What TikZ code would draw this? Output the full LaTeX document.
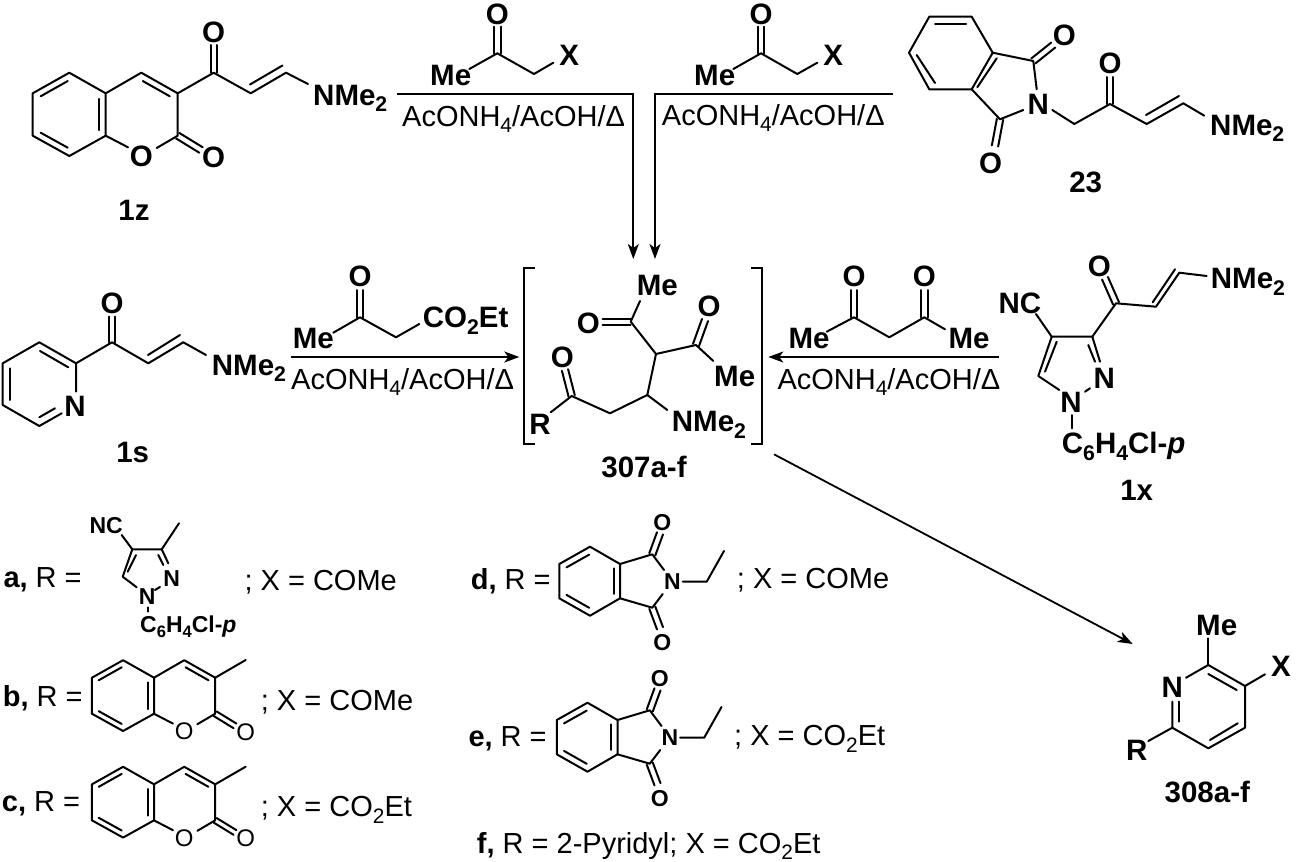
\documentclass[tikz,border=0pt]{standalone}
\usepackage{graphicx}
\usepackage{fontspec}
\setmainfont{Liberation Sans}
\usetikzlibrary{calc,arrows.meta}
\newcommand{\subs}[1]{\raisebox{-.23em}{\scalebox{.72}{#1}}}
\newcommand{\acoh}{AcONH\subs{4}/AcOH/Δ}
\def\dblbond(#1)(#2){\draw[bond] ($(#1)!3.2pt!90:(#2)$) -- ($(#2)!3.2pt!-90:(#1)$); \draw[bond] ($(#1)!3.2pt!-90:(#2)$) -- ($(#2)!3.2pt!90:(#1)$);}
\def\inbond(#1)(#2){\draw[bond] ($(#1)!.13!(#2)!6.5pt!90:(#2)$) -- ($(#2)!.13!(#1)!6.5pt!-90:(#1)$);}
\def\coumarin[#1](#2,#3)#4#5{\begin{scope}[shift={(#2,#3)},scale=#1]
	\draw[bond] (-36.4,-20.6) -- (0,0) -- (0,42.4) -- (-36.4,62.7) -- (-73,42.4) -- (-73,0) -- cycle;
	\inbond(-36.4,-20.6)(-73,0)
	\inbond(-73,42.4)(-36.4,62.7)
	\inbond(0,42.4)(0,0)
	\draw[bond] (0,0) -- (35.6,-20.6) -- (72,0) -- (72,42.4) -- (51,54.7);
	\draw[bond] (0,42.4) -- (22.3,54);
	\inbond(72,0)(35.6,-20.6)
	\dblbond(72,42.4)(95.3,56.7)
	\node[#5] (#4ring) at (35.6,63.4) {O};
	\node[#5] (#4oxo) at (108,63.7) {O};
\end{scope}}
\def\phthal(#1,#2)#3{\begin{scope}[shift={(#1,#2)}]
	\draw[bond] (-30,-17.3) -- (0,0) -- (0,34.3) -- (-30,51.7) -- (-60.7,34.3) -- (-60.7,0) -- cycle;
	\inbond(-30,-17.3)(-60.7,0)
	\inbond(-60.7,34.3)(-30,51.7)
	\inbond(0,34.3)(0,0)
	\draw[bond] (0,0) -- (32.3,-9.7) -- (44,6);
	\draw[bond] (0,34.3) -- (32.3,43.7) -- (42.7,30);
	\dblbond(32.3,-9.7)(40,-30.7)
	\dblbond(32.3,43.7)(40,64.3)
	\draw[bond] (62.7,17.7) -- (86.7,17.7) -- (104,-13);
	\node[atomsm] (#3n) at (52.3,17.7) {N};
	\node[atomsm] (#3up) at (42.3,-41.7) {O};
	\node[atomsm] (#3dn) at (42.3,78.3) {O};
\end{scope}}
\tikzset{
	bond/.style={line width=2pt,line cap=round,line join=round},
	rxn/.style={line width=1.8pt,-{Stealth[length=15pt,width=11pt,inset=4pt]}},
	brk/.style={line width=2pt},
	atom/.style={font=\bfseries\fontsize{29.5}{31}\selectfont,inner sep=0pt},
	atomsm/.style={font=\bfseries\fontsize{23}{25}\selectfont,inner sep=0pt},
	atomthin/.style={font=\fontsize{24}{26}\selectfont,inner sep=0pt},
	grp/.style={atom,anchor=base west},
	grpsm/.style={atomsm,anchor=base west},
	txt/.style={font=\fontsize{29}{31}\selectfont,inner sep=0pt,anchor=base west},
}
\begin{document}
\begin{tikzpicture}[x=1pt,y=-1pt]
	\useasboundingbox (0,0) rectangle (1299,862);
	
	%%%%% top row %%%%%
	\coumarin[1](105.7,93.3){z}{atom}
	\draw[bond] (177.7,93.3) -- (213.7,72.7) -- (250.7,93.3) -- (286,72.7) -- (308,84);
	\dblbond(213.7,72.7)(213.7,45)
	\draw[bond] (250,84.5) -- (282.5,65.5);
	\node[atom] (zo) at (213.7,32.7) {O};
	\node[grp] (zn) at (313,105) {NMe\subs{2}};
	\node[atom] (zlab) at (134,210.7) {1z};
	
	\draw[bond] (469.3,69) -- (497.3,53.3) -- (534,74) -- (553.3,62.7);
	\dblbond(497.3,53.3)(497.3,26.7)
	\node[atom] (ao) at (497.3,14) {O};
	\node[grp] (ame) at (430,85) {Me};
	\node[atom] (ax) at (569.3,55) {X};
	\node[txt] (acond) at (402,126) {\acoh};
	
	\draw[bond] (733.3,69) -- (761,53.3) -- (797.3,74) -- (817.3,62.7);
	\dblbond(761,53.3)(761,26.7)
	\node[atom] (bo) at (761,14) {O};
	\node[grp] (bme) at (694,85) {Me};
	\node[atom] (bx) at (833.3,55) {X};
	\node[txt] (bcond) at (661.7,125) {\acoh};
	
	\coordinate (al) at (397,93.7);
	\coordinate (ac) at (633.3,93.7);
	\coordinate (ad) at (633.3,259);
	\draw[rxn] (al) -- (ac) -- (ad);
	\coordinate (br) at (892.7,93.7);
	\coordinate (bc) at (655,93.7);
	\coordinate (bd) at (655,259);
	\draw[rxn] (br) -- (bc) -- (bd);
	
	\draw[bond] (929.3,16.7) -- (971.7,16.7) -- (992.7,52.7) -- (971.7,89.3) -- (929.3,89.3) -- (909,52.7) -- cycle;
	\draw[bond] (935,24) -- (966,24);
	\draw[bond] (916.7,55) -- (935,83);
	\draw[bond] (996.7,58.3) -- (977.3,87.3);
	\draw[bond] (992.7,52.7) -- (1033.3,61) -- (1036.7,89.3);
	\draw[bond] (971.7,89.3) -- (1000,119.3) -- (1023.3,110);
	\dblbond(1033.3,61)(1053.3,45)
	\dblbond(1000,119.3)(995,146)
	\draw[bond] (1052.3,110) -- (1074.3,124) -- (1110,104) -- (1146.7,124) -- (1183.3,103.3) -- (1204.3,115.7);
	\dblbond(1110,104)(1110,77)
	\draw[bond] (1146,115) -- (1179,96);
	\node[atom] (to1) at (1064.3,35.7) {O};
	\node[atom] (to2) at (990.7,163.3) {O};
	\node[atom] (tn) at (1038.3,104) {N};
	\node[atom] (to3) at (1110,63.3) {O};
	\node[grp] (tnme) at (1210,135) {NMe\subs{2}};
	\node[atom] (tlab) at (1085.7,182.7) {23};
	
	%%%%% middle row %%%%%
	\draw[bond] (61.7,413.3) -- (39.3,426) -- (2.7,405) -- (2.7,363.3) -- (39.3,342.3) -- (76,363.3) -- (76,391.7);
	\draw[bond] (40,351) -- (68.3,367.3);
	\draw[bond] (10,368.3) -- (10,400);
	\draw[bond] (39.3,417.3) -- (55,408.3);
	\draw[bond] (76,363.3) -- (112,342.3) -- (148.3,363.3) -- (183.3,342.3) -- (206,355);
	\dblbond(112,342.3)(112,316.7)
	\draw[bond] (148,355) -- (180,335);
	\node[atom] (sn) at (75,406.7) {N};
	\node[atom] (so) at (112,303.3) {O};
	\node[grp] (snme) at (211.7,375) {NMe\subs{2}};
	\node[atom] (slab) at (132.7,452.3) {1s};
	
	\draw[bond] (333.3,332.7) -- (360,317.3) -- (396,337.3) -- (419.3,324);
	\dblbond(360,317.3)(360,290)
	\node[atom] (co) at (360,276) {O};
	\node[grp] (cme) at (292.7,348.3) {Me};
	\node[grp] (cest) at (422.7,327.3) {CO\subs{2}Et};
	\node[txt] (ccond) at (291,389.3) {\acoh};
	\coordinate (cs) at (291,357);
	\coordinate (ce) at (519.3,357);
	\draw[rxn] (cs) -- (ce);
	
	\draw[brk] (535,268) -- (524,268) -- (524,443.7) -- (535,443.7);
	\draw[brk] (751,268) -- (762.3,268) -- (762.3,443.7) -- (751,443.7);
	\draw[bond] (640,301) -- (630.7,321.7) -- (656,354) -- (696,345) -- (713.3,361);
	\dblbond(630.7,321.7)(602.7,321.7)
	\dblbond(696,345)(705,320)
	\draw[bond] (656,354) -- (647.3,395) -- (610,413.3) -- (571.7,396) -- (550.7,412.3);
	\draw[bond] (647.3,395) -- (667.3,410);
	\dblbond(571.7,396)(565,370)
	\node[grp] (mme1) at (636.7,295) {Me};
	\node[atom] (mo1) at (588.3,323.3) {O};
	\node[atom] (mo2) at (709,306) {O};
	\node[grp] (mme2) at (714,386) {Me};
	\node[atom] (mo3) at (562.3,357.3) {O};
	\node[atom] (mr) at (540,424) {R};
	\node[grp] (mn) at (671.7,431.7) {NMe\subs{2}};
	\node[atom] (mlab) at (644,466.7) {307a-f};
	
	\draw[bond] (826.7,331.7) -- (854,317.3) -- (889.3,337.3) -- (924.3,317.3) -- (945,329.3);
	\dblbond(854,317.3)(854,290)
	\dblbond(924.3,317.3)(924.3,290)
	\node[atom] (do1) at (854,276.7) {O};
	\node[atom] (do2) at (924.3,276.7) {O};
	\node[grp] (dme1) at (788.3,348.3) {Me};
	\node[grp] (dme2) at (948.3,348.3) {Me};
	\node[txt] (dcond) at (777.3,389) {\acoh};
	\coordinate (ds) at (999.3,357);
	\coordinate (de) at (768.3,357);
	\draw[rxn] (ds) -- (de);
	
	\draw[bond] (1059.3,390) -- (1038.3,376) -- (1051.7,336.7) -- (1092.3,336.7) -- (1100,361.7);
	\draw[bond] (1056.7,341.7) -- (1045,371.7);
	\draw[bond] (1088.3,345) -- (1095,361.7);
	\draw[bond] (1085,391.7) -- (1090,388.3);
	\draw[bond] (1071.7,415) -- (1071.7,428.3);
	\draw[bond] (1051.7,336.7) -- (1036,314);
	\draw[bond] (1092.3,336.7) -- (1116,303.3) -- (1156,306.7) -- (1179.3,272.7) -- (1206.7,276);
	\dblbond(1116,303.3)(1105,278.3)
	\draw[bond] (1152.7,302.3) -- (1175,269.3);
	\node[atom] (xn2) at (1104.3,378.3) {N};
	\node[atom] (xn1) at (1071,402.3) {N};
	\node[grp] (xnc) at (998.3,313.3) {NC};
	\node[atom] (xo) at (1099.3,266) {O};
	\node[grp] (xnme) at (1210.7,288.3) {NMe\subs{2}};
	\node[grp] (xar) at (1061.7,453.3) {C\subs{6}H\subs{4}Cl-\textit{p}};
	\node[atom] (xlab) at (1136.7,490) {1x};
	
	%%%%% product %%%%%
	\coordinate (ps) at (774,454.3);
	\coordinate (pe) at (1132.7,644);
	\draw[rxn] (ps) -- (pe);
	
	\draw[bond] (1186,677.7) -- (1208.3,665) -- (1245,686) -- (1245,727.7) -- (1208.3,748.3) -- (1172.3,727.7) -- (1172.3,701.7);
	\draw[bond] (1179.3,721.7) -- (1179.3,701.7);
	\draw[bond] (1208.3,674) -- (1236.7,690);
	\draw[bond] (1210,740) -- (1237.7,723.3);
	\draw[bond] (1208.3,665) -- (1208.3,638.3);
	\draw[bond] (1245,686) -- (1265,674.3);
	\draw[bond] (1172.3,727.7) -- (1148.3,741);
	\node[atom] (pn) at (1172.3,687.3) {N};
	\node[atom] (pme) at (1216.7,625) {Me};
	\node[atom] (px) at (1281,666) {X};
	\node[atom] (pr) at (1136.7,750) {R};
	\node[atom] (plab) at (1207.3,791.7) {308a-f};
	
	%%%%% key %%%%%
	\node[txt] (ka) at (3.3,587.3) {\textbf{a,} R =};
	\draw[bond] (136.7,587.3) -- (122.7,576.7) -- (132.3,549.3) -- (161.7,549.3) -- (168.3,563.3);
	\draw[bond] (136,555) -- (127.7,571.7);
	\draw[bond] (158.3,555) -- (163.3,565);
	\draw[bond] (155,590) -- (160,587);
	\draw[bond] (147.7,607.3) -- (147.7,611.7);
	\draw[bond] (132.3,549.3) -- (121.7,535);
	\draw[bond] (161.7,549.3) -- (179,523.3);
	\node[atomsm] (kan2) at (171.7,578.3) {N};
	\node[atomsm] (kan1) at (147.3,596.7) {N};
	\node[grpsm] (kanc) at (89.3,533.3) {NC};
	\node[grpsm] (kaar) at (140,632.7) {C\subs{6}H\subs{4}Cl-\textit{p}};
	\node[txt] (kax) at (244.3,590) {; X = COMe};
	
	\node[txt] (kb) at (2.7,706) {\textbf{b,} R =};
	\coumarin[.85](154,677.7){kb}{atomthin}
	\draw[bond] (215.2,677.7) -- (245.7,660);
	\node[txt] (kbx) at (260.7,710) {; X = COMe};
	
	\node[txt] (kc) at (1.7,811.7) {\textbf{c,} R =};
	\coumarin[.85](154,784.3){kc}{atomthin}
	\draw[bond] (215.2,784.3) -- (245.7,766.7);
	\node[txt] (kcx) at (260.7,816.7) {; X = CO\subs{2}Et};
	
	\node[txt] (kd) at (470.7,589.3) {\textbf{d,} R =};
	\phthal(620,564){kd}
	\node[txt] (kdx) at (736.7,588.3) {; X = COMe};
	
	\node[txt] (ke) at (468.3,746.7) {\textbf{e,} R =};
	\phthal(617.5,720){ke}
	\node[txt] (kex) at (734,745.7) {; X = CO\subs{2}Et};
	
	\node[txt] (kf) at (476.7,853.3) {\textbf{f,} R = 2-Pyridyl; X = CO\subs{2}Et};
\end{tikzpicture}
\end{document}
